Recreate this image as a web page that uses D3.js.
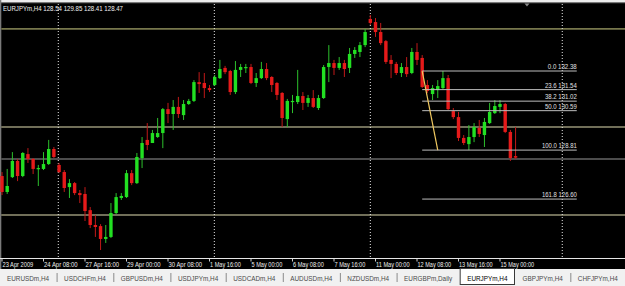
<!DOCTYPE html>
<html><head><meta charset="utf-8">
<script src="https://cdn.jsdelivr.net/npm/d3@7"></script>
<style>html,body{margin:0;padding:0;background:#000;overflow:hidden}</style>
</head><body><svg id="c" width="625" height="286"></svg>
<script>
// ---------- DATA ----------
const chartTitle = "EURJPYm,H4  128.54 129.85 128.41 128.47";
const opens  = [127.64,126.92,127.59,128.32,127.64,128.63,128.41,127.96,127.96,128.18,
                128.86,128.14,127.82,127.14,127.32,126.87,126.83,126.10,125.43,125.38,
                124.80,124.89,125.97,126.65,126.69,127.77,127.32,128.45,129.27,129.13,
                129.40,129.58,130.66,130.44,130.76,130.39,130.89,131.03,131.88,131.84,
                131.61,131.75,132.06,132.52,132.38,131.43,132.43,132.52,132.56,131.84,
                132.06,132.47,132.11,131.84,131.39,130.21,130.98,130.98,131.25,130.94,
                131.16,130.71,131.16,132.56,132.74,132.52,132.74,132.52,133.15,133.24,
                133.55,134.73,134.59,134.14,133.73,132.88,132.70,132.29,132.56,132.29,
                133.24,132.97,131.75,131.34,131.52,131.61,132.06,130.57,130.30,129.36,
                129.08,129.40,129.81,129.49,130.03,130.48,130.76,130.89,129.63,128.54];
const highs  = [127.82,127.96,128.72,128.41,128.72,128.90,128.45,128.14,128.72,129.27,
                128.95,128.23,127.91,127.50,127.37,127.01,127.14,126.24,125.88,125.47,
                125.43,126.42,126.87,126.87,127.91,127.91,128.68,129.40,130.03,129.72,
                130.26,130.71,130.94,131.07,131.21,131.07,131.12,131.97,132.33,132.29,
                131.75,132.20,132.88,132.61,132.43,132.83,132.70,132.70,132.70,132.29,
                132.79,132.74,132.15,131.88,131.43,131.12,131.30,132.43,131.43,131.30,
                131.52,131.30,132.65,133.55,132.88,133.01,132.88,133.42,133.46,133.69,
                134.28,134.91,134.77,134.55,133.78,133.10,132.79,132.74,133.01,133.42,
                133.64,133.10,131.97,131.75,131.97,132.38,132.20,130.71,130.53,129.49,
                129.94,130.03,130.17,130.26,130.94,131.07,131.07,130.94,129.72,129.85];
const lows   = [126.78,126.83,127.55,127.41,127.59,128.23,127.73,127.19,127.91,128.14,
                128.45,127.77,126.92,126.65,126.78,126.42,125.61,125.29,124.89,124.30,
                124.62,124.84,125.92,126.56,126.65,127.23,127.28,128.00,128.81,129.13,
                129.36,128.90,130.03,129.72,130.26,130.17,130.85,130.98,131.39,131.16,
                131.43,131.70,132.02,132.24,131.30,131.34,132.11,132.29,131.79,131.66,
                132.02,131.97,131.43,131.07,129.85,129.85,130.48,130.89,130.62,130.76,
                130.71,130.62,131.12,131.88,132.20,132.43,132.11,132.29,132.97,133.01,
                133.46,134.46,133.92,133.55,132.70,132.06,132.20,132.11,132.11,132.24,
                132.65,131.61,131.39,131.07,131.16,131.57,130.62,130.21,129.22,129.04,
                128.81,129.17,129.40,128.95,129.99,130.44,130.48,129.58,128.32,128.41];
const closes = [126.92,127.19,128.32,127.64,128.68,128.41,127.96,128.00,128.18,128.86,
                128.50,127.82,127.10,127.32,126.87,126.78,126.06,125.43,125.34,124.80,
                124.89,125.97,126.69,126.74,127.77,127.32,128.50,129.13,129.04,129.58,
                129.58,130.66,130.44,130.76,130.44,130.89,131.03,131.88,131.79,131.61,
                131.52,132.11,132.47,132.33,131.43,132.43,132.56,132.56,131.84,132.06,
                132.47,132.06,131.75,131.30,130.26,131.03,131.03,131.25,130.94,131.16,
                130.76,131.16,132.56,132.74,132.52,132.74,132.47,133.15,133.33,133.55,
                134.14,134.55,134.14,133.64,132.79,132.70,132.29,132.56,132.24,133.24,
                132.88,131.66,131.48,131.61,131.70,132.06,130.66,130.30,129.36,129.13,
                129.40,129.85,129.54,130.08,130.53,130.80,130.89,129.63,128.45,128.47];
const timeLabels = ["23 Apr 2009","24 Apr 08:00","27 Apr 16:00","29 Apr 00:00","30 Apr 08:00",
                    "1 May 16:00","5 May 00:00","6 May 08:00","7 May 16:00","11 May 00:00",
                    "12 May 08:00","13 May 16:00","15 May 00:00"];
const timeLabelBars = [0,8,16,24,32,40,48,56,64,72,80,88,96];
const separatorBars = [10.85, 40.93, 71.0, 108.0];
const horizontalLevels = [134.28, 129.85, 128.41, 125.88];
const fibRatios = ["0.0","23.6","38.2","50.0","100.0","161.8"];
const fibPrices = [132.38, 131.54, 131.02, 130.59, 128.81, 126.60];
const fibAnchorBars = [81, 84];      // trend line from high to low
const fibEndBar = 110.8;
const shiftMarkerBar = 101.2;
const tabs = ["EURUSDm,H4","USDCHFm,H4","GBPUSDm,H4","USDJPYm,H4","USDCADm,H4","AUDUSDm,H4",
              "NZDUSDm,H4","EURGBPm,Daily","EURJPYm,H4","GBPJPYm,H4","CHFJPYm,H4"];
const activeTab = "EURJPYm,H4";

// ---------- DRAW ----------
const W = 625, H = 286;
const svg = d3.select("#c");
const plotTop = 3, plotBottom = 258;
const x = d3.scaleLinear().domain([0, 96]).range([2, 500]);
const y = d3.scaleLinear().domain([123.94, 135.45]).range([plotBottom, plotTop]);
const font = "'Liberation Sans', Arial, sans-serif";

svg.append("rect").attr("width", W).attr("height", H).attr("fill", "#000");
// top frame
svg.append("rect").attr("x",0).attr("y",0).attr("width",W).attr("height",2.2).attr("fill","#ececec");
svg.append("line").attr("x1",0).attr("x2",W).attr("y1",2.7).attr("y2",2.7).attr("stroke","#8c8c8c").attr("stroke-width",1);
svg.append("rect").attr("x",0).attr("y",0).attr("width",1.3).attr("height",269).attr("fill","#7a7a7a");

// horizontal user lines
const hColors = ["#77774c", "#e2ddb2", "#666666", "#e2ddb2"];
const hWidths = [1.6, 1.1, 1.6, 1.1];
svg.append("g").selectAll("line").data(horizontalLevels).join("line")
  .attr("x1", 1.3).attr("x2", W)
  .attr("y1", d => y(d)).attr("y2", d => y(d))
  .attr("stroke", (d,i) => hColors[i]).attr("stroke-width", (d,i) => hWidths[i]);

// period separators
svg.append("g").selectAll("line").data(separatorBars).join("line")
  .attr("x1", d => x(d)).attr("x2", d => x(d))
  .attr("y1", plotTop + 1).attr("y2", plotBottom)
  .attr("stroke", "#e8e8e8").attr("stroke-width", 1).attr("stroke-dasharray", "1,2");

// candles
const bars = d3.range(opens.length).map(i => ({i, o: opens[i], h: highs[i], l: lows[i], c: closes[i]}));
const bull = "#22e022", bear = "#e51a1a";
const cg = svg.append("g");
cg.selectAll("line").data(bars).join("line")
  .attr("x1", d => x(d.i)).attr("x2", d => x(d.i))
  .attr("y1", d => y(d.h)).attr("y2", d => y(d.l))
  .attr("stroke", d => d.c >= d.o ? "#2cc02c" : "#c01818").attr("stroke-width", 1);
cg.selectAll("rect").data(bars).join("rect")
  .attr("x", d => x(d.i) - 1.7).attr("width", 3.4)
  .attr("y", d => y(Math.max(d.o, d.c)))
  .attr("height", d => Math.max(1.2, Math.abs(y(d.o) - y(d.c))))
  .attr("fill", d => d.c >= d.o ? bull : bear);

// Fibonacci
const fg = svg.append("g");
fg.selectAll("line.lvl").data(fibPrices).join("line").attr("class","lvl")
  .attr("x1", x(fibAnchorBars[0])).attr("x2", x(fibEndBar))
  .attr("y1", d => y(d)).attr("y2", d => y(d))
  .attr("stroke", "#bdbdbd").attr("stroke-width", 1);
fg.append("line")
  .attr("x1", x(fibAnchorBars[0])).attr("y1", y(fibPrices[0]))
  .attr("x2", x(fibAnchorBars[1])).attr("y2", y(fibPrices[4]))
  .attr("stroke", "#f0c860").attr("stroke-width", 1.2);
fg.selectAll("text").data(fibPrices).join("text")
  .attr("x", x(fibEndBar)).attr("y", d => y(d) - 2)
  .attr("text-anchor", "end")
  .attr("font-family", font).attr("font-size", 7).attr("fill", "#e0e0e0")
  .text((d,i) => fibRatios[i] + " " + d.toFixed(2))
  .each(function(d,i){ const s = fibRatios[i] + " " + d.toFixed(2);
     d3.select(this).attr("textLength", s.length * 2.9).attr("lengthAdjust","spacingAndGlyphs"); });

// title
svg.append("text").attr("x", 3).attr("y", 11)
  .attr("font-family", font).attr("font-size", 7).attr("fill", "#f0f0f0")
  .attr("textLength", 120).attr("lengthAdjust", "spacingAndGlyphs")
  .text(chartTitle);

// chart shift marker
const mx = x(shiftMarkerBar);
svg.append("path").attr("d", `M${mx-2.5},3.5 L${mx+2.5},3.5 L${mx},6.5 Z`).attr("fill", "#8a8a8a");

// time axis
svg.append("line").attr("x1", 0).attr("x2", W).attr("y1", plotBottom + 0.5).attr("y2", plotBottom + 0.5)
  .attr("stroke", "#e6e6e6").attr("stroke-width", 1);
const tg = svg.append("g");
tg.selectAll("line").data(timeLabelBars).join("line")
  .attr("x1", d => x(d)).attr("x2", d => x(d)).attr("y1", plotBottom + 1).attr("y2", plotBottom + 3.5)
  .attr("stroke", "#d0d0d0").attr("stroke-width", 1);
tg.selectAll("text").data(timeLabelBars).join("text")
  .attr("x", d => x(d) + 0.5).attr("y", 266.5)
  .attr("font-family", font).attr("font-size", 7).attr("fill", "#eeeeee")
  .attr("textLength", (d,i) => timeLabels[i].length * 2.8).attr("lengthAdjust", "spacingAndGlyphs")
  .text((d,i) => timeLabels[i]);

// tab strip
const tabTop = 269;
svg.append("rect").attr("x", 0).attr("y", tabTop).attr("width", W).attr("height", H - tabTop).attr("fill", "#f1f1f1");
const tabG = svg.append("g");
let cx = 7;
const tabPos = [];
tabs.forEach((t, i) => {
  const tx = tabG.append("text").attr("x", cx).attr("y", 280.5)
    .attr("font-family", font).attr("font-size", 6.6)
    .attr("fill", t === activeTab ? "#000" : "#4a4a4a").text(t);
  const w = tx.node().getComputedTextLength() * 0.965;
  tx.attr("textLength", w).attr("lengthAdjust", "spacingAndGlyphs");
  tabPos.push({t, x: cx, w});
  cx += w + 15;
});
tabPos.forEach((p, i) => {
  if (p.t === activeTab) {
    tabG.insert("rect", "text").attr("x", p.x - 7).attr("y", tabTop - 0.5).attr("width", p.w + 14)
      .attr("height", 16).attr("fill", "#fff").attr("stroke", "#3a3a3a").attr("stroke-width", 1);
  }
  const next = tabPos[i + 1];
  if (p.t !== activeTab && (!next || next.t !== activeTab)) {
    const sx = p.x + p.w + 8;
    tabG.append("line").attr("x1", sx).attr("x2", sx).attr("y1", 273).attr("y2", 282)
      .attr("stroke", "#8a8a8a").attr("stroke-width", 1);
  }
});
</script></body></html>
